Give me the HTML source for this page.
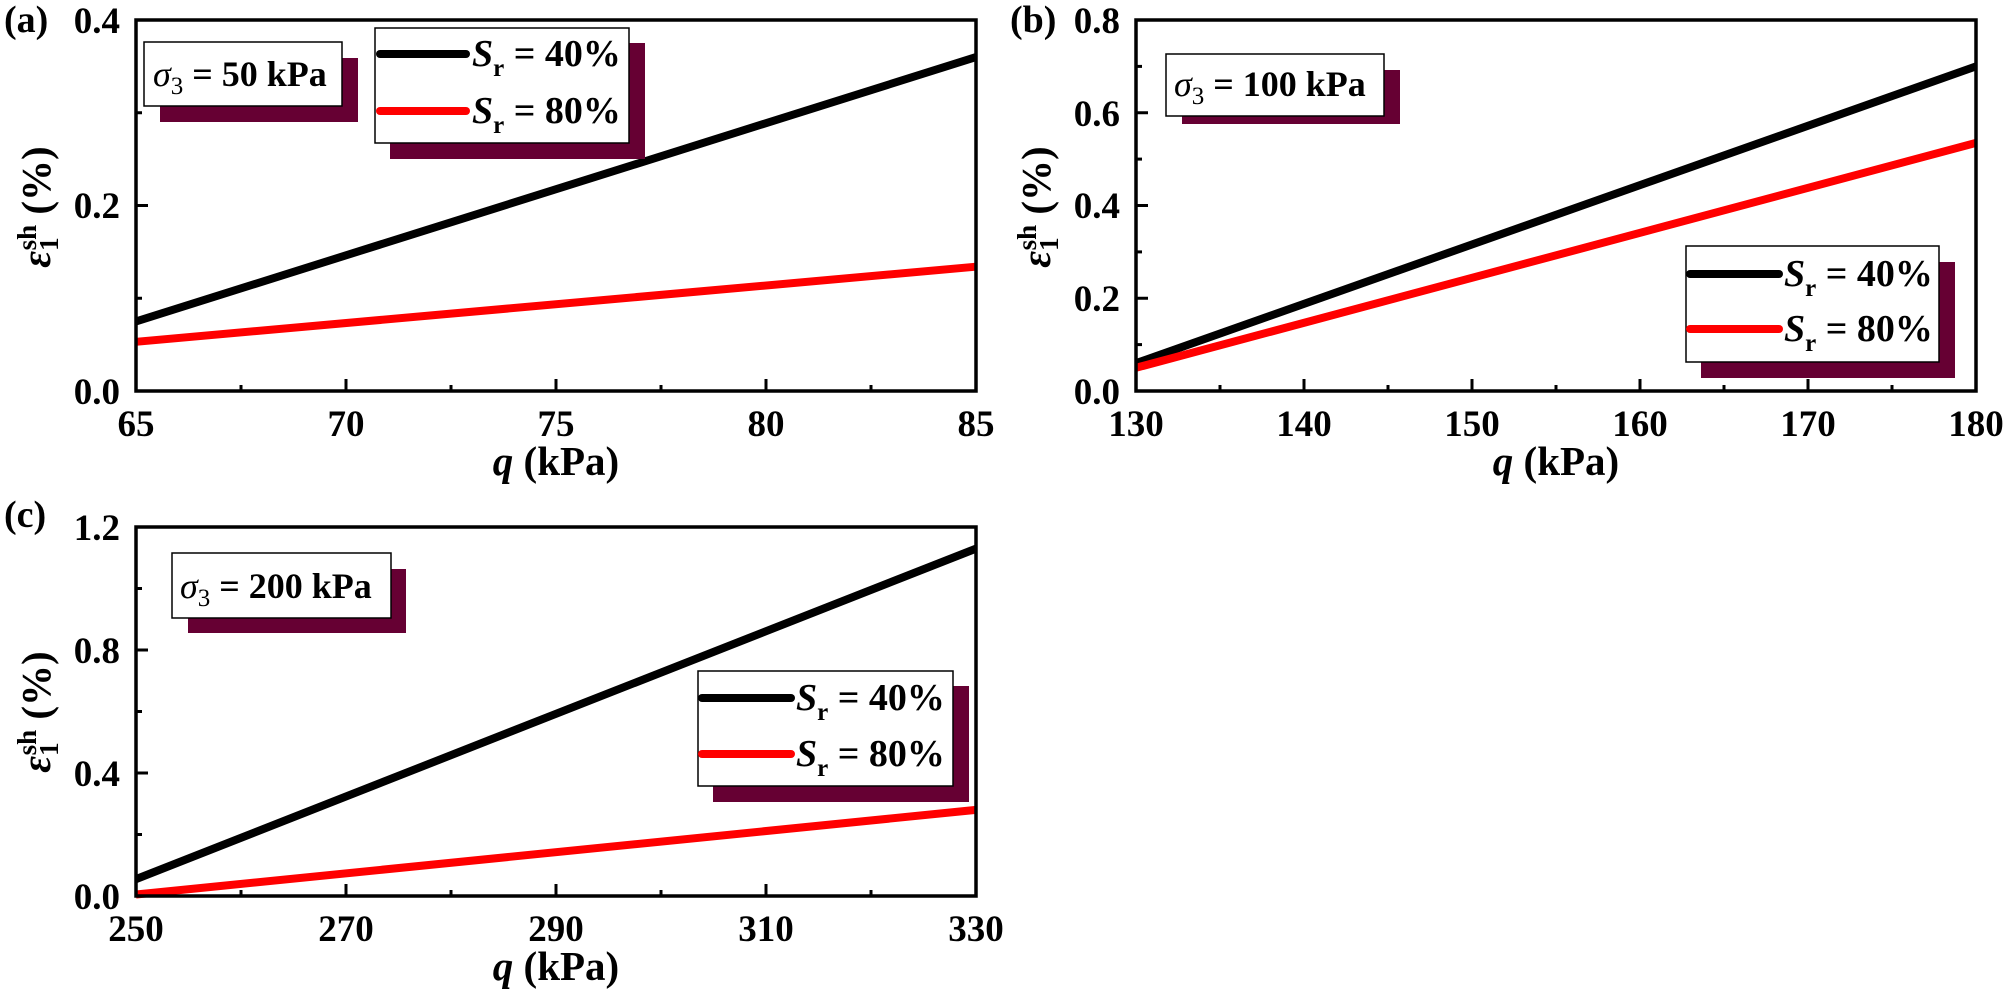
<!DOCTYPE html>
<html><head><meta charset="utf-8"><style>
html,body{margin:0;padding:0;background:#fff}
svg{display:block}
svg text{font-family:"Liberation Serif","Times New Roman",Times,serif;font-weight:bold}
</style></head><body>
<svg width="2008" height="993" viewBox="0 0 2008 993" xmlns="http://www.w3.org/2000/svg" font-family="Liberation Serif, Times New Roman, serif" font-weight="bold">
<rect width="2008" height="993" fill="#fff"/>

<!-- ===== Panel (a) ===== -->
<g>
<text x="4" y="32" font-size="38">(a)</text>
<g stroke="#000" stroke-width="3">
<line x1="136" y1="391" x2="136" y2="379"/><line x1="346" y1="391" x2="346" y2="379"/><line x1="556" y1="391" x2="556" y2="379"/><line x1="766" y1="391" x2="766" y2="379"/>
<line x1="241" y1="391" x2="241" y2="385"/><line x1="451" y1="391" x2="451" y2="385"/><line x1="661" y1="391" x2="661" y2="385"/><line x1="871" y1="391" x2="871" y2="385"/>
<line x1="136" y1="205.5" x2="148" y2="205.5"/>
<line x1="136" y1="112.75" x2="142" y2="112.75"/><line x1="136" y1="298.25" x2="142" y2="298.25"/>
</g>
<line x1="136" y1="321.4" x2="976" y2="57.1" stroke="#000" stroke-width="8"/>
<line x1="136" y1="341.8" x2="976" y2="266.7" stroke="#f00" stroke-width="8"/>
<rect x="136" y="20" width="840" height="371" fill="none" stroke="#000" stroke-width="3.5"/>
<g font-size="37" text-anchor="end">
<text x="120" y="404">0.0</text><text x="120" y="218">0.2</text><text x="120" y="33">0.4</text>
</g>
<g font-size="37" text-anchor="middle">
<text x="136" y="436">65</text><text x="346" y="436">70</text><text x="556" y="436">75</text><text x="766" y="436">80</text><text x="976" y="436">85</text>
</g>
<text x="556" y="475" font-size="41" text-anchor="middle"><tspan font-style="italic">q</tspan> (kPa)</text>
<text transform="translate(50,207) rotate(-90)" font-size="41" text-anchor="middle"><tspan font-style="italic">ε</tspan><tspan font-size="27" dy="8">1</tspan><tspan font-size="27" dy="-22" dx="-13">sh</tspan><tspan dy="14"> (%)</tspan></text>
<rect x="160" y="58" width="198" height="64" fill="#660033"/>
<rect x="144" y="42" width="198" height="64" fill="#fff" stroke="#000" stroke-width="1.5"/>
<text x="153" y="86" font-size="36"><tspan font-style="italic" font-weight="normal">σ</tspan><tspan font-size="25" dy="8" font-weight="normal">3</tspan><tspan dy="-8"> = 50 kPa</tspan></text>
<rect x="390" y="43" width="255" height="116" fill="#660033"/>
<rect x="375" y="28" width="254" height="115" fill="#fff" stroke="#000" stroke-width="1.5"/>
<line x1="380" y1="54" x2="466" y2="54" stroke="#000" stroke-width="8" stroke-linecap="round"/>
<line x1="380" y1="111" x2="466" y2="111" stroke="#f00" stroke-width="8" stroke-linecap="round"/>
<text x="472" y="66" font-size="38"><tspan font-style="italic">S</tspan><tspan font-size="25" dy="10">r</tspan><tspan dy="-10"> = 40%</tspan></text>
<text x="472" y="123" font-size="38"><tspan font-style="italic">S</tspan><tspan font-size="25" dy="10">r</tspan><tspan dy="-10"> = 80%</tspan></text>
</g>

<!-- ===== Panel (b) ===== -->
<g>
<text x="1010" y="32" font-size="38">(b)</text>
<g stroke="#000" stroke-width="3">
<line x1="1304" y1="391" x2="1304" y2="379"/><line x1="1472" y1="391" x2="1472" y2="379"/><line x1="1640" y1="391" x2="1640" y2="379"/><line x1="1808" y1="391" x2="1808" y2="379"/>
<line x1="1220" y1="391" x2="1220" y2="385"/><line x1="1388" y1="391" x2="1388" y2="385"/><line x1="1556" y1="391" x2="1556" y2="385"/><line x1="1724" y1="391" x2="1724" y2="385"/><line x1="1892" y1="391" x2="1892" y2="385"/>
<line x1="1136" y1="298.25" x2="1148" y2="298.25"/><line x1="1136" y1="205.5" x2="1148" y2="205.5"/><line x1="1136" y1="112.75" x2="1148" y2="112.75"/>
<line x1="1136" y1="344.6" x2="1142" y2="344.6"/><line x1="1136" y1="251.9" x2="1142" y2="251.9"/><line x1="1136" y1="159.1" x2="1142" y2="159.1"/><line x1="1136" y1="66.4" x2="1142" y2="66.4"/>
</g>
<line x1="1136" y1="363.2" x2="1976" y2="66.4" stroke="#000" stroke-width="8"/>
<line x1="1136" y1="367.8" x2="1976" y2="142.9" stroke="#f00" stroke-width="8"/>
<rect x="1136" y="20" width="840" height="371" fill="none" stroke="#000" stroke-width="3.5"/>
<g font-size="37" text-anchor="end">
<text x="1120" y="404">0.0</text><text x="1120" y="311">0.2</text><text x="1120" y="218">0.4</text><text x="1120" y="126">0.6</text><text x="1120" y="33">0.8</text>
</g>
<g font-size="37" text-anchor="middle">
<text x="1136" y="436">130</text><text x="1304" y="436">140</text><text x="1472" y="436">150</text><text x="1640" y="436">160</text><text x="1808" y="436">170</text><text x="1976" y="436">180</text>
</g>
<text x="1556" y="475" font-size="41" text-anchor="middle"><tspan font-style="italic">q</tspan> (kPa)</text>
<text transform="translate(1050,207) rotate(-90)" font-size="41" text-anchor="middle"><tspan font-style="italic">ε</tspan><tspan font-size="27" dy="8">1</tspan><tspan font-size="27" dy="-22" dx="-13">sh</tspan><tspan dy="14"> (%)</tspan></text>
<rect x="1182" y="70" width="218" height="54" fill="#660033"/>
<rect x="1166" y="54" width="218" height="62" fill="#fff" stroke="#000" stroke-width="1.5"/>
<text x="1174" y="96" font-size="36"><tspan font-style="italic" font-weight="normal">σ</tspan><tspan font-size="25" dy="8" font-weight="normal">3</tspan><tspan dy="-8"> = 100 kPa</tspan></text>
<rect x="1701" y="262" width="254" height="116" fill="#660033"/>
<rect x="1686" y="246" width="253" height="116" fill="#fff" stroke="#000" stroke-width="1.5"/>
<line x1="1690" y1="274" x2="1779" y2="274" stroke="#000" stroke-width="8" stroke-linecap="round"/>
<line x1="1690" y1="329" x2="1779" y2="329" stroke="#f00" stroke-width="8" stroke-linecap="round"/>
<text x="1784" y="286" font-size="38"><tspan font-style="italic">S</tspan><tspan font-size="25" dy="10">r</tspan><tspan dy="-10"> = 40%</tspan></text>
<text x="1784" y="341" font-size="38"><tspan font-style="italic">S</tspan><tspan font-size="25" dy="10">r</tspan><tspan dy="-10"> = 80%</tspan></text>
</g>

<!-- ===== Panel (c) ===== -->
<g>
<text x="4" y="527" font-size="38">(c)</text>
<g stroke="#000" stroke-width="3">
<line x1="346" y1="896" x2="346" y2="884"/><line x1="556" y1="896" x2="556" y2="884"/><line x1="766" y1="896" x2="766" y2="884"/>
<line x1="241" y1="896" x2="241" y2="890"/><line x1="451" y1="896" x2="451" y2="890"/><line x1="661" y1="896" x2="661" y2="890"/><line x1="871" y1="896" x2="871" y2="890"/>
<line x1="136" y1="773" x2="148" y2="773"/><line x1="136" y1="650" x2="148" y2="650"/>
<line x1="136" y1="834.5" x2="142" y2="834.5"/><line x1="136" y1="711.5" x2="142" y2="711.5"/><line x1="136" y1="588.5" x2="142" y2="588.5"/>
</g>
<line x1="136" y1="879.1" x2="976" y2="548.6" stroke="#000" stroke-width="8"/>
<line x1="136" y1="894.5" x2="976" y2="809.9" stroke="#f00" stroke-width="8"/>
<rect x="136" y="527" width="840" height="369" fill="none" stroke="#000" stroke-width="3.5"/>
<g font-size="37" text-anchor="end">
<text x="120" y="909">0.0</text><text x="120" y="786">0.4</text><text x="120" y="663">0.8</text><text x="120" y="540">1.2</text>
</g>
<g font-size="37" text-anchor="middle">
<text x="136" y="941">250</text><text x="346" y="941">270</text><text x="556" y="941">290</text><text x="766" y="941">310</text><text x="976" y="941">330</text>
</g>
<text x="556" y="980" font-size="41" text-anchor="middle"><tspan font-style="italic">q</tspan> (kPa)</text>
<text transform="translate(50,712) rotate(-90)" font-size="41" text-anchor="middle"><tspan font-style="italic">ε</tspan><tspan font-size="27" dy="8">1</tspan><tspan font-size="27" dy="-22" dx="-13">sh</tspan><tspan dy="14"> (%)</tspan></text>
<rect x="188" y="569" width="218" height="64" fill="#660033"/>
<rect x="172" y="553" width="219" height="65" fill="#fff" stroke="#000" stroke-width="1.5"/>
<text x="180" y="598" font-size="36"><tspan font-style="italic" font-weight="normal">σ</tspan><tspan font-size="25" dy="8" font-weight="normal">3</tspan><tspan dy="-8"> = 200 kPa</tspan></text>
<rect x="713" y="686" width="256" height="116" fill="#660033"/>
<rect x="698" y="671" width="255" height="115" fill="#fff" stroke="#000" stroke-width="1.5"/>
<line x1="702" y1="698" x2="791" y2="698" stroke="#000" stroke-width="8" stroke-linecap="round"/>
<line x1="702" y1="754" x2="791" y2="754" stroke="#f00" stroke-width="8" stroke-linecap="round"/>
<text x="796" y="710" font-size="38"><tspan font-style="italic">S</tspan><tspan font-size="25" dy="10">r</tspan><tspan dy="-10"> = 40%</tspan></text>
<text x="796" y="766" font-size="38"><tspan font-style="italic">S</tspan><tspan font-size="25" dy="10">r</tspan><tspan dy="-10"> = 80%</tspan></text>
</g>
</svg>
</body></html>
